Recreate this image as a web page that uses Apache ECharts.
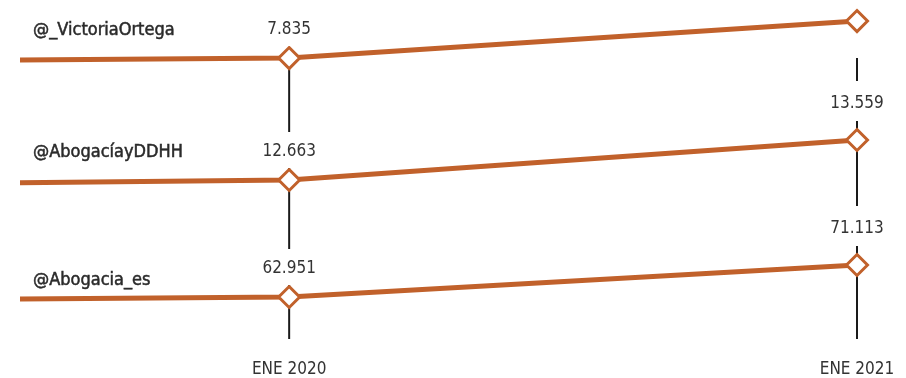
<!DOCTYPE html>
<html><head><meta charset="utf-8">
<script src="https://cdn.jsdelivr.net/npm/echarts@6/dist/echarts.min.js"></script>
<style>html,body{margin:0;padding:0;background:#fff}#c{width:906px;height:378px}</style>
</head><body><div id="c"></div>
<script>
// ---- data ----
const accounts = ['@_VictoriaOrtega', '@AbogacíayDDHH', '@Abogacia_es'];
const xPoints = [2019.526, 2020, 2021];          // left lead-in, ENE 2020, ENE 2021
const xTickValues = [2020, 2021];
const xTickLabels = ['ENE 2020', 'ENE 2021'];
const victoriaOrtega = [7761, 7835, 9210];
const abogaciaDDHH = [12603, 12663, 13559];
const abogaciaEs = [62441, 62951, 71113];
const seriesValues = [victoriaOrtega, abogaciaDDHH, abogaciaEs];
const showEndLabel = [false, true, true];

// ---- layout / scales ----
const FONT = '"DejaVu Sans Condensed", "DejaVu Sans", sans-serif';
const ORANGE = '#c1612b';
const grids = [
  { left: 20, right: 49, top: 10, height: 100 },
  { left: 20, right: 49, top: 110, height: 115 },
  { left: 20, right: 49, top: 225, height: 114 }
];
const yRanges = [[5903, 9619], [11655, 14231], [52240, 81315]];
const nameTops = [21, 143, 271];

const fmt = v => String(v).replace(/\B(?=(\d{3})+(?!\d))/g, '.');

const xAxes = grids.map((g, i) => ({
  type: 'value', gridIndex: i, min: xPoints[0], max: 2021,
  show: i === 2,
  axisLine: { show: false }, axisTick: { show: false }, splitLine: { show: false },
  axisLabel: {
    customValues: xTickValues,
    formatter: v => xTickLabels[xTickValues.indexOf(v)] || '',
    margin: 22, fontFamily: FONT, fontSize: 17, color: '#333'
  }
}));
const yAxes = grids.map((g, i) => ({
  type: 'value', gridIndex: i, min: yRanges[i][0], max: yRanges[i][1], show: false
}));

const series = [];
seriesValues.forEach((vals, i) => {
  const top = i === 0 ? vals[1] : yRanges[i][1];
  const bottom = yRanges[i][0];
  xTickValues.forEach(x => {
    series.push({
      type: 'line', xAxisIndex: i, yAxisIndex: i, z: 1, silent: true,
      symbol: 'none', lineStyle: { color: '#1a1a1a', width: 2 },
      data: [[x, top], [x, bottom]]
    });
  });
  series.push({
    name: accounts[i], type: 'line', xAxisIndex: i, yAxisIndex: i, z: 3,
    lineStyle: { color: ORANGE, width: 5 },
    itemStyle: { color: '#fff', borderColor: ORANGE, borderWidth: 3 },
    symbolSize: 21,
    data: vals.map((v, j) => ({
      value: [xPoints[j], v],
      symbol: j === 0 ? 'none' : 'diamond',
      label: {
        show: j === 1 || (j === 2 && showEndLabel[i]),
        position: 'top', distance: j === 1 ? 0 : 7,
        formatter: p => fmt(p.value[1]),
        fontFamily: FONT, fontSize: 17, color: '#333',
        backgroundColor: '#fff', padding: j === 1 ? [10, 3, 6, 3] : [13, 3, 7, 3], lineHeight: 20
      }
    }))
  });
});

const chart = echarts.init(document.getElementById('c'), null, { renderer: 'canvas' });
chart.setOption({
  animation: false,
  backgroundColor: '#fff',
  title: accounts.map((a, i) => ({
    text: a, left: 33, top: nameTops[i], padding: 0,
    textStyle: {
      fontFamily: FONT, fontSize: 18, fontWeight: 'normal', color: '#2a2a2a',
      textBorderColor: '#2a2a2a', textBorderWidth: 0.5
    }
  })),
  grid: grids,
  xAxis: xAxes,
  yAxis: yAxes,
  series: series
});
</script>
</body></html>
